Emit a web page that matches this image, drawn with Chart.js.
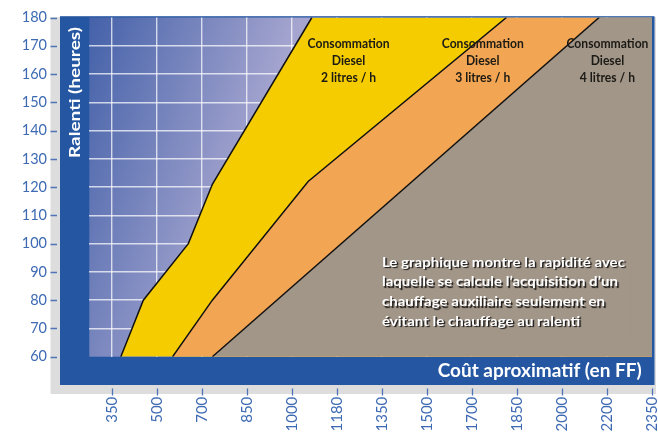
<!DOCTYPE html>
<html><head><meta charset="utf-8">
<script src="https://cdn.jsdelivr.net/npm/chart.js@4/dist/chart.umd.min.js"></script>
<style>html,body{margin:0;padding:0;background:#fff}#wrap{width:658px;height:437px;position:relative}</style>
</head><body><div id="wrap"><canvas id="c" width="658" height="437"></canvas></div>
<script>
// ---- data ----
const costTicks = [350, 500, 700, 850, 1000, 1180, 1350, 1500, 1700, 1850, 2000, 2200, 2350];
const hourTicks = [60, 70, 80, 90, 100, 110, 120, 130, 140, 150, 160, 170, 180];
// boundary lines: cost (FF) and idle hours
const line2Cost  = [380, 455, 640, 735, 1080];
const line2Hours = [60, 80, 100, 121, 180];
const line3Cost  = [570, 735, 1065, 1815];
const line3Hours = [60, 80, 122, 180];
const line4Cost  = [735, 2165];
const line4Hours = [60, 180];
const zoneLabels = [
  ['Consommation', 'Diesel', '2 litres / h'],
  ['Consommation', 'Diesel', '3 litres / h'],
  ['Consommation', 'Diesel', '4 litres / h']
];
const noteLines = [
  'Le graphique montre la rapidité avec',
  'laquelle se calcule l’acquisition d’un',
  'chauffage auxiliaire seulement en',
  'évitant le chauffage au ralenti'
];
const xTitle = 'Coût aproximatif (en FF)';
const yTitle = 'Ralenti (heures)';

// ---- helpers ----
function costToPos(c) {
  for (let i = 0; i < costTicks.length - 1; i++) {
    if (c <= costTicks[i + 1]) return i + (c - costTicks[i]) / (costTicks[i + 1] - costTicks[i]);
  }
  return costTicks.length - 1;
}
const toPts = (costs, hours) => costs.map((c, i) => ({x: costToPos(c), y: hours[i]}));
const corner = {x: costToPos(costTicks[costTicks.length - 1]), y: hourTicks[hourTicks.length - 1]};

const YELLOW = '#f5cc00', ORANGE = '#f2a553', GREY = '#a29689', BLUE = '#2456a2', TICKBLUE = '#3d6ab3';
const GRIDCOL = 'rgba(255,255,255,0.72)';
const ZONE_X = [5.26, 8.24, 11.01];

function scaledText(ctx, text, x, y, targetW) {
  const nat = ctx.measureText(text).width;
  const f = targetW / nat;
  ctx.save();
  ctx.translate(x, y);
  ctx.scale(f, 1);
  ctx.fillText(text, 0, 0);
  ctx.restore();
}

const framePlugin = {
  id: 'frame',
  beforeDraw(chart) {
    const {ctx, chartArea: a} = chart;
    ctx.save();
    ctx.fillStyle = '#dddddd';
    ctx.fillRect(50.5, 17, 605.5, 377);
    ctx.fillStyle = BLUE;
    ctx.fillRect(60, 16.2, 594.5, 368.8);
    const g = ctx.createLinearGradient(a.left, a.top, a.left + 190, a.top + 63);
    g.addColorStop(0, '#4461a9');
    g.addColorStop(1, '#a5a5cf');
    ctx.fillStyle = g;
    ctx.fillRect(a.left, a.top, a.right - a.left, a.bottom - a.top);
    ctx.fillStyle = '#ffffff';
    ctx.textBaseline = 'middle';
    ctx.font = 'bold 16px Lato';
    ctx.textAlign = 'left';
    ctx.save();
    ctx.translate(74.7, 158);
    ctx.rotate(-Math.PI / 2);
    scaledText(ctx, yTitle, 0, 0, 131);
    ctx.restore();
    ctx.font = 'bold 18px Lato';
    ctx.textAlign = 'right';
    scaledText(ctx, xTitle, 641.7, 371.5, 204);
    ctx.restore();
  },
  afterDraw(chart) {
    const {ctx, scales: {x, y}} = chart;
    ctx.save();
    // outer tick marks
    ctx.strokeStyle = '#4f74b8';
    ctx.lineWidth = 1.3;
    ctx.beginPath();
    hourTicks.forEach(h => {
      const py = Math.round(y.getPixelForValue(h)) + 0.5;
      ctx.moveTo(50.5, py); ctx.lineTo(57, py);
    });
    costTicks.forEach((c, i) => {
      const px = Math.round(x.getPixelForValue(i)) + 0.5;
      ctx.moveTo(px, 388.5); ctx.lineTo(px, 395.5);
    });
    ctx.stroke();
    // zone labels
    ctx.fillStyle = '#1c1a14';
    ctx.font = 'bold 14px Lato';
    ctx.textAlign = 'center';
    ctx.textBaseline = 'middle';
    const top = y.getPixelForValue(170.7);
    zoneLabels.forEach((lines, k) => {
      const cx = x.getPixelForValue(ZONE_X[k]);
      const f = 82 / ctx.measureText(lines[0]).width;
      lines.forEach((t, i) => {
        scaledText(ctx, t, cx, top + i * 17, ctx.measureText(t).width * f);
      });
    });
    // note paragraph (grid hidden behind it, as in the original)
    const nx = x.getPixelForValue(6);
    const ny = y.getPixelForValue(93.4);
    ctx.fillStyle = GREY;
    ctx.fillRect(nx - 12, ny - 10, 262, 86);
    ctx.font = 'bold 14px Lato';
    ctx.textAlign = 'left';
    ctx.fillStyle = '#ffffff';
    ctx.shadowColor = 'rgba(0,0,0,0.85)';
    ctx.shadowOffsetX = 1.5;
    ctx.shadowOffsetY = 1.5;
    ctx.shadowBlur = 1;
    const fn = 243 / ctx.measureText(noteLines[0]).width;
    noteLines.forEach((t, i) => {
      ctx.save();
      ctx.translate(nx, ny + i * 19.6);
      ctx.scale(fn, 1);
      ctx.fillText(t, 0, 0);
      ctx.restore();
    });
    ctx.restore();
  }
};

const fillDs = (costs, hours, color, order) => ({
  data: [...toPts(costs, hours), corner], fill: 'start', backgroundColor: color,
  borderWidth: 0, pointRadius: 0, order: order
});
const lineDs = (costs, hours) => ({
  data: toPts(costs, hours), fill: false, borderColor: '#111111', borderWidth: 1.5,
  pointRadius: 0, order: 0
});

new Chart(document.getElementById('c').getContext('2d'), {
  type: 'line',
  data: {
    datasets: [
      fillDs(line2Cost, line2Hours, YELLOW, 5),
      fillDs(line3Cost, line3Hours, ORANGE, 4),
      fillDs(line4Cost, line4Hours, GREY, 3),
      lineDs(line2Cost, line2Hours),
      lineDs(line3Cost, line3Hours),
      lineDs(line4Cost, line4Hours)
    ]
  },
  options: {
    responsive: false,
    animation: false,
    devicePixelRatio: 1,
    layout: {padding: {left: 0, top: 17.5, right: 6, bottom: 0}},
    plugins: {legend: {display: false}, tooltip: {enabled: false}},
    elements: {line: {tension: 0}},
    scales: {
      x: {
        type: 'linear', min: -0.5, max: 12, z: 1,
        grid: {
          display: true, drawTicks: false, drawOnChartArea: true, lineWidth: 1.4,
          color: c => (c.tick && c.tick.value >= costTicks.length - 1) ? 'rgba(0,0,0,0)' : GRIDCOL
        },
        border: {display: false},
        ticks: {
          autoSkip: false, minRotation: 90, maxRotation: 90, padding: 40,
          color: TICKBLUE, font: {family: 'Lato', size: 15},
          callback: v => costTicks[v]
        },
        afterBuildTicks: s => { s.ticks = costTicks.map((_, i) => ({value: i})); },
        afterFit: s => { s.height = 80.3; s.paddingLeft = 0; s.paddingRight = 0; }
      },
      y: {
        type: 'linear', min: 60, max: 180, z: 1,
        grid: {
          display: true, drawTicks: false, drawOnChartArea: true, lineWidth: 1.4,
          color: c => (c.tick && (c.tick.value <= hourTicks[0] || c.tick.value >= hourTicks[hourTicks.length - 1])) ? 'rgba(0,0,0,0)' : GRIDCOL
        },
        border: {display: false},
        ticks: {padding: 42.3, color: TICKBLUE, font: {family: 'Lato', size: 14.5}},
        afterBuildTicks: s => { s.ticks = hourTicks.map(h => ({value: h})); },
        afterFit: s => { s.width = 89.3; s.paddingTop = 0; s.paddingBottom = 0; }
      }
    }
  },
  plugins: [framePlugin]
});
</script>
</body></html>
